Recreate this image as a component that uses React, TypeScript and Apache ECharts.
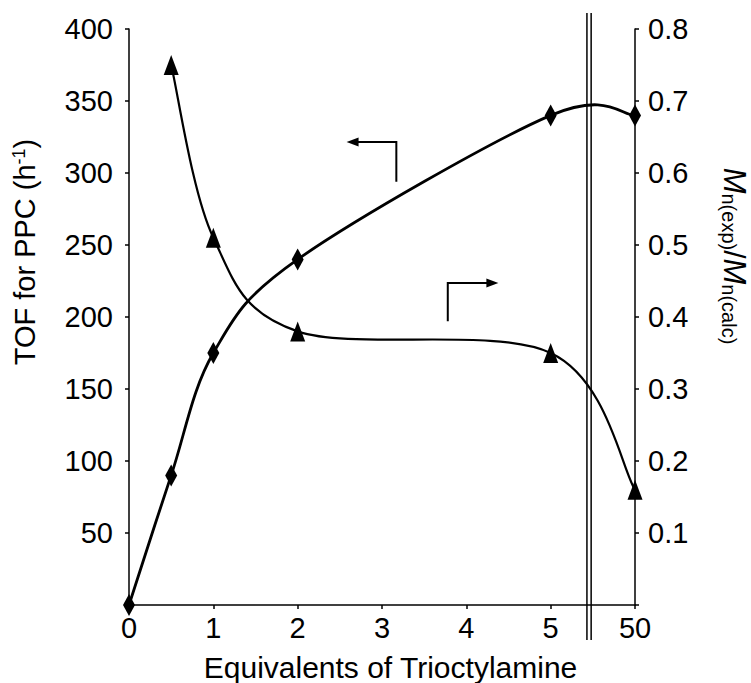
import React, { useEffect, useRef } from 'react';
import * as echarts from 'echarts';

// Data
const tofEquivalents = [0, 0.5, 1, 2, 5, 50];
const tofValues = [0, 90, 175, 240, 340, 340];
const ratioEquivalents = [0.5, 1, 2, 5, 50];
const ratioValues = [0.75, 0.51, 0.38, 0.35, 0.16];
const xTickLabels = ['0', '1', '2', '3', '4', '5', '50'];

// broken axis: values above 5 are placed one slot after 5
const toAxis = (v: number) => (v <= 5 ? v : 6);

const FONT = '"Liberation Sans", Arial, Helvetica, sans-serif';

const tofData = tofEquivalents.map((e, i) => [toAxis(e), tofValues[i]]);
const ratioData = ratioEquivalents.map((e, i) => [toAxis(e), ratioValues[i]]);

// Spreadsheet-style smoothed curve (Catmull-Rom → cubic Bezier) through the
// points, positioned by the axes' scales via api.coord.
function smoothCurve(data: number[][], width: number) {
  return (params: any, api: any) => {
    if (params.dataIndex !== 0) return null;
    const p = data.map((d) => api.coord(d) as number[]);
    const n = p.length;
    let d = `M${p[0][0]},${p[0][1]}`;
    for (let i = 0; i < n - 1; i++) {
      const p0 = p[Math.max(i - 1, 0)];
      const p1 = p[i];
      const p2 = p[i + 1];
      const p3 = p[Math.min(i + 2, n - 1)];
      const c1x = p1[0] + (p2[0] - p0[0]) / 6;
      const c1y = p1[1] + (p2[1] - p0[1]) / 6;
      const c2x = p2[0] - (p3[0] - p1[0]) / 6;
      const c2y = p2[1] - (p3[1] - p1[1]) / 6;
      d += ` C${c1x},${c1y} ${c2x},${c2y} ${p2[0]},${p2[1]}`;
    }
    return {
      type: 'path',
      shape: { pathData: d },
      style: { stroke: '#000', lineWidth: width, fill: 'none' },
      silent: true,
    };
  };
}

export default function App() {
  const ref = useRef<HTMLDivElement>(null);
  useEffect(() => {
    if (!ref.current) return;
    const chart = echarts.init(ref.current, null, { renderer: 'svg' });
    const axisLine = { show: true, lineStyle: { color: '#000', width: 1.5 } };
    const axisTick = { show: true, length: 4, lineStyle: { color: '#000', width: 1.5 } };
    const option: any = {
      animation: false,
      backgroundColor: '#fff',
      textStyle: { fontFamily: FONT, color: '#000' },
      grid: { left: 129, right: 116, top: 29, bottom: 78, containLabel: false, outerBoundsMode: 'none' },
      xAxis: {
        type: 'value',
        min: 0,
        max: 6,
        interval: 1,
        name: 'Equivalents of Trioctylamine',
        nameLocation: 'middle',
        nameGap: 47,
        nameTextStyle: { fontSize: 30, color: '#000', fontFamily: FONT, padding: [0, 0, 0, 17] },
        axisLine,
        axisTick,
        axisLabel: {
          fontSize: 29, color: '#000', fontFamily: FONT, margin: 8,
          formatter: (v: number) => xTickLabels[Math.round(v)] ?? '',
        },
        splitLine: { show: false },
      },
      yAxis: [
        {
          type: 'value',
          min: 0,
          max: 400,
          interval: 50,
          position: 'left',
          name: 'TOF for PPC (h{sup|-1})',
          nameLocation: 'middle',
          nameGap: 90,
          nameRotate: 90,
          nameTextStyle: {
            fontSize: 29, color: '#000', fontFamily: FONT, padding: [0, 0, 0, 130],
            rich: { sup: { fontSize: 18, color: '#000', fontFamily: FONT, verticalAlign: 'top' } },
          },
          axisLine,
          axisTick,
          axisLabel: {
            fontSize: 29, color: '#000', fontFamily: FONT, margin: 16,
            formatter: (v: number) => (v === 0 ? '' : String(v)),
          },
          splitLine: { show: false },
        },
        {
          type: 'value',
          min: 0,
          max: 0.8,
          interval: 0.1,
          position: 'right',
          name: '{m|M}{s|n(exp)}{d|/}{m|M}{s|n(calc)}',
          nameLocation: 'middle',
          nameGap: 84,
          nameRotate: -90,
          nameTextStyle: {
            fontSize: 29, color: '#000', fontFamily: FONT, padding: [0, 122, 0, 0],
            rich: {
              m: { fontSize: 31, fontStyle: 'italic', color: '#000', fontFamily: FONT },
              d: { fontSize: 30, color: '#000', fontFamily: FONT },
              s: { fontSize: 20, color: '#000', fontFamily: FONT, verticalAlign: 'bottom' },
            },
          },
          axisLine,
          axisTick,
          axisLabel: {
            fontSize: 29, color: '#000', fontFamily: FONT, margin: 13,
            formatter: (v: number) => (Math.abs(v) < 1e-9 ? '' : v.toFixed(1)),
          },
          splitLine: { show: false },
        },
      ],
      series: [
        {
          name: 'TOF curve',
          type: 'custom',
          yAxisIndex: 0,
          data: tofData,
          encode: { x: 0, y: 1 },
          renderItem: smoothCurve(tofData, 2.8),
          clip: false,
          z: 2,
        },
        {
          name: 'TOF',
          type: 'scatter',
          yAxisIndex: 0,
          data: tofData,
          symbol: 'diamond',
          symbolSize: [12, 22],
          itemStyle: { color: '#000', opacity: 1 },
          clip: false,
          z: 3,
        },
        {
          name: 'Mn ratio curve',
          type: 'custom',
          yAxisIndex: 1,
          data: ratioData,
          encode: { x: 0, y: 1 },
          renderItem: smoothCurve(ratioData, 2.2),
          clip: false,
          z: 2,
        },
        {
          name: 'Mn ratio',
          type: 'scatter',
          yAxisIndex: 1,
          data: ratioData,
          symbol: 'triangle',
          symbolSize: [15, 20],
          itemStyle: { color: '#000', opacity: 1 },
          clip: false,
          z: 3,
        },
      ],
    };
    chart.setOption(option);

    const px = (x: number, y: number) =>
      chart.convertToPixel({ xAxisIndex: 0, yAxisIndex: 0 }, [x, y]) as number[];

    // break marks and arrows (annotation positions in axis units)
    const b1 = px(5.43, 0)[0];
    const b2 = px(5.48, 0)[0];
    const a1c = px(3.17, 321.5);
    const a1b = px(3.17, 294);
    const a1h = px(2.58, 321.5);
    const a2c = px(3.78, 223.6);
    const a2b = px(3.78, 197);
    const a2h = px(4.38, 223.6);
    const stroke = { stroke: '#000', lineWidth: 2, fill: null };
    const head = (tip: number[], dir: number) => ({
      type: 'polygon',
      shape: { points: [tip, [tip[0] - dir * 12, tip[1] - 4.5], [tip[0] - dir * 12, tip[1] + 4.5]] },
      style: { fill: '#000' },
      z: 10,
    });
    chart.setOption({
      graphic: [
        { type: 'line', shape: { x1: b1, y1: 13, x2: b1, y2: 640 }, style: { stroke: '#000', lineWidth: 1.5 }, z: 10 },
        { type: 'line', shape: { x1: b2, y1: 13, x2: b2, y2: 640 }, style: { stroke: '#000', lineWidth: 1.5 }, z: 10 },
        { type: 'polyline', shape: { points: [a1b, a1c, [a1h[0] + 10, a1h[1]]] }, style: stroke, z: 10 },
        head(a1h, -1),
        { type: 'polyline', shape: { points: [a2b, a2c, [a2h[0] - 10, a2h[1]]] }, style: stroke, z: 10 },
        head(a2h, 1),
      ],
    });
    return () => chart.dispose();
  }, []);
  return (
    <div
      ref={ref}
      style={{ position: 'fixed', left: 0, top: 0, width: 751, height: 683, background: '#fff' }}
    />
  );
}
